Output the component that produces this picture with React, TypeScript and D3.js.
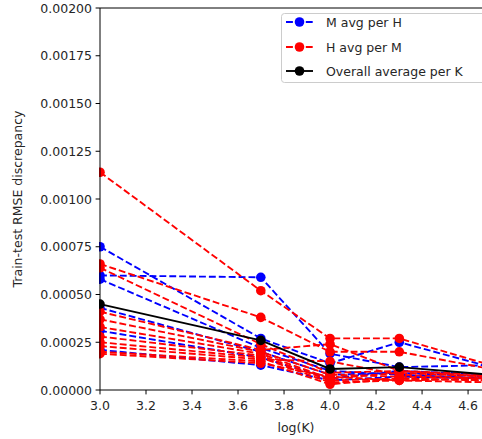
import React from "react";
import * as d3 from "d3";

const logK = [3.0, 3.69897, 4.0, 4.30103, 4.69897];

const blueSeries: number[][] = [
  [0.00075, 0.00027, 0.00014, 0.00025, 0.00012],
  [0.0006, 0.00059, 0.00019, 0.00012, 0.00013],
  [0.00058, 0.00022, 0.0001, 0.00008, 0.00006],
  [0.00043, 0.0002, 0.00008, 0.00009, 0.00007],
  [0.00031, 0.00017, 0.00006, 0.0001, 0.00008],
  [0.00021, 0.00013, 0.00005, 0.00007, 0.00006],
];

const redSeries: number[][] = [
  [0.00114, 0.00052, 0.00027, 0.00027, 0.00013],
  [0.00066, 0.00038, 0.0002, 0.0002, 0.00011],
  [0.00064, 0.00024, 0.00009, 0.0001, 0.00008],
  [0.00041, 0.00021, 0.00024, 0.0001, 0.00007],
  [0.00037, 0.0002, 0.00008, 0.00007, 0.00006],
  [0.00033, 0.00019, 0.00006, 0.00009, 0.00007],
  [0.00028, 0.00018, 0.00005, 0.00006, 0.00005],
  [0.00025, 0.00017, 0.00004, 0.00005, 0.00006],
  [0.00023, 0.00016, 0.00015, 0.00008, 0.00006],
  [0.0002, 0.00015, 0.00003, 0.00006, 0.00005],
  [0.00019, 0.00014, 0.00007, 0.00005, 0.00004],
];

const overall = [0.00045, 0.00026, 0.00011, 0.00012, 0.00008];

const xTicks = [3.0, 3.2, 3.4, 3.6, 3.8, 4.0, 4.2, 4.4, 4.6];
const yTicks = [0, 0.00025, 0.0005, 0.00075, 0.001, 0.00125, 0.0015, 0.00175, 0.002];

const legendLabels = ["M avg per H", "H avg per M", "Overall average per K"];

const W = 482;
const H = 439;
const left = 100;
const right = 492;
const top = 8;
const bottom = 390;
const FONT = "DejaVu Sans, sans-serif";
const FS = 12.5;
const TXT = "#262626";

export default function App() {
  const x = d3.scaleLinear().domain([3.0, 4.704]).range([left, right]);
  const y = d3.scaleLinear().domain([0, 0.002]).range([bottom, top]);
  const line = d3
    .line<number>()
    .x((_, i) => x(logK[i]))
    .y((d) => y(d));

  const renderSeries = (data: number[][], color: string, dashed: boolean, key: string) =>
    data.map((s, si) => (
      <g key={key + si}>
        <path
          d={line(s) || ""}
          fill="none"
          stroke={color}
          strokeWidth={1.875}
          strokeDasharray={dashed ? "6.9,3" : undefined}
        />
        {s.map((v, i) => (
          <circle key={i} cx={x(logK[i])} cy={y(v)} r={4.8} fill={color} />
        ))}
      </g>
    ));

  const legendColors = ["#0000ff", "#ff0000", "#000000"];
  const legendY = [22, 47, 71];

  return (
    <div style={{ position: "absolute", left: 0, top: 0 }}>
      <svg width={W} height={H} style={{ display: "block", background: "#fff" }}>
        <defs>
          <clipPath id="plotclip">
            <rect x={left - 1} y={top} width={right - left + 1} height={bottom - top} />
          </clipPath>
        </defs>
        <rect x={0} y={0} width={W} height={H} fill="#fff" />
        <g clipPath="url(#plotclip)">
          {renderSeries(blueSeries, "#0000ff", true, "b")}
          {renderSeries(redSeries, "#ff0000", true, "r")}
          {renderSeries([overall], "#000000", false, "k")}
        </g>
        {/* spines */}
        <line x1={left} x2={left} y1={top} y2={bottom} stroke="#000" strokeWidth={1} />
        <line x1={left} x2={right} y1={bottom} y2={bottom} stroke="#000" strokeWidth={1} />
        <line x1={left} x2={right} y1={top} y2={top} stroke="#000" strokeWidth={1} />
        <line x1={right} x2={right} y1={top} y2={bottom} stroke="#000" strokeWidth={1} />
        {/* x ticks */}
        {xTicks.map((t) => (
          <g key={"xt" + t}>
            <line x1={x(t)} x2={x(t)} y1={bottom} y2={bottom + 4.4} stroke="#000" strokeWidth={1} />
            <text
              x={x(t)}
              y={bottom + 19.5}
              textAnchor="middle"
              fontFamily={FONT}
              fontSize={FS}
              fill={TXT}
            >
              {t.toFixed(1)}
            </text>
          </g>
        ))}
        {/* y ticks */}
        {yTicks.map((t) => (
          <g key={"yt" + t}>
            <line x1={left - 4.4} x2={left} y1={y(t)} y2={y(t)} stroke="#000" strokeWidth={1} />
            <text
              x={left - 8}
              y={y(t)}
              dy="0.36em"
              textAnchor="end"
              fontFamily={FONT}
              fontSize={FS}
              fill={TXT}
            >
              {t.toFixed(5)}
            </text>
          </g>
        ))}
        <text
          x={(left + right) / 2}
          y={432}
          textAnchor="middle"
          fontFamily={FONT}
          fontSize={FS}
          fill={TXT}
        >
          log(K)
        </text>
        <text
          transform={`translate(22,${(top + bottom) / 2}) rotate(-90)`}
          textAnchor="middle"
          fontFamily={FONT}
          fontSize={FS}
          fill={TXT}
        >
          Train-test RMSE discrepancy
        </text>
        {/* legend */}
        <g>
          <rect
            x={281.5}
            y={13.5}
            width={205}
            height={69}
            rx={3}
            fill="#fff"
            fillOpacity={0.8}
            stroke="#cccccc"
            strokeWidth={1}
          />
          {legendLabels.map((lab, i) => (
            <g key={lab}>
              <line
                x1={286}
                x2={313}
                y1={legendY[i]}
                y2={legendY[i]}
                stroke={legendColors[i]}
                strokeWidth={1.875}
                strokeDasharray={i < 2 ? "6.9,3" : undefined}
              />
              <circle cx={299.5} cy={legendY[i]} r={4.8} fill={legendColors[i]} />
              <text
                x={326}
                y={legendY[i]}
                dy="0.36em"
                fontFamily={FONT}
                fontSize={FS}
                fill={TXT}
              >
                {lab}
              </text>
            </g>
          ))}
        </g>
      </svg>
    </div>
  );
}
